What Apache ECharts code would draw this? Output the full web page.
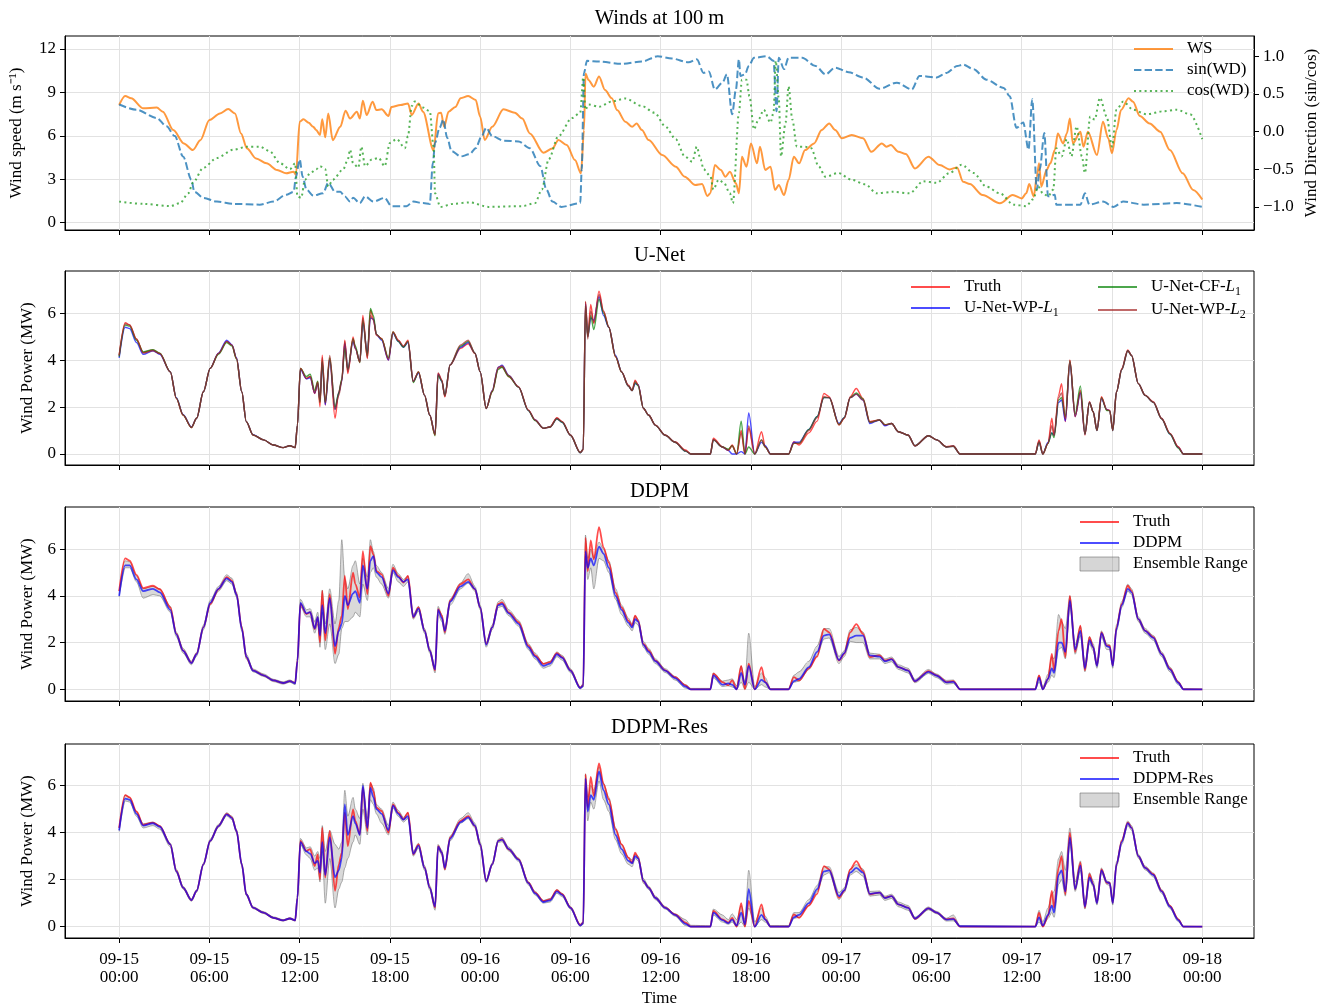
<!DOCTYPE html>
<html><head><meta charset="utf-8">
<script src="https://cdn.jsdelivr.net/npm/echarts@6/dist/echarts.min.js"></script>
<style>html,body{margin:0;padding:0;background:#fff}#c{width:1332px;height:1007px}</style>
</head><body><div id="c"></div>
<script>
// ---------- tick labels ----------
const xTickHours=[0,6,12,18,24,30,36,42,48,54,60,66,72];
const xTickLabels=['09-15\n00:00','09-15\n06:00','09-15\n12:00','09-15\n18:00','09-16\n00:00','09-16\n06:00','09-16\n12:00','09-16\n18:00','09-17\n00:00','09-17\n06:00','09-17\n12:00','09-17\n18:00','09-18\n00:00'];
const wsTicks=[0,3,6,9,12];
const dirTicks=[-1,-0.5,0,0.5,1];
const powerTicks=[0,2,4,6];

// ---------- winds at 100 m : [hours since 09-15 00:00, value] ----------
const wsData=[[0,8.13],[0.4,8.75],[0.8,8.6],[1.6,7.9],[2.5,7.95],[2.9,7.67],[3.6,6.4],[4.3,5.48],[4.9,5.02],[5.4,5.7],[6,7.1],[6.7,7.55],[7.25,7.85],[7.7,7.55],[8.1,6.17],[8.5,5.13],[9.1,4.44],[9.8,4.1],[10.5,3.64],[11.1,3.41],[11.6,3.52],[11.75,3.3],[12,6.98],[12.25,7.14],[12.6,6.9],[12.9,6.63],[13.1,6.4],[13.35,6.06],[13.5,7.14],[13.7,5.9],[13.9,7.55],[14.2,5.7],[14.7,6.63],[15.05,7.74],[15.35,7.2],[15.8,7.67],[16,7.2],[16.2,8.43],[16.45,7.44],[16.85,8.36],[17.1,7.78],[17.45,7.83],[17.9,7.37],[18.1,8.0],[18.7,8.13],[19.2,8.24],[19.45,7.44],[19.9,8.24],[20.2,7.67],[20.9,5.0],[21.2,7.55],[21.4,7.6],[21.6,6.63],[21.9,7.67],[22.35,8.0],[22.7,8.6],[23.2,8.75],[23.7,8.48],[24,7.32],[24.3,5.71],[24.8,6.63],[25.55,7.83],[26.3,7.6],[26.8,7.2],[27.3,6.17],[28.2,4.84],[28.8,5.13],[29.2,5.71],[29.75,5.37],[30.3,4.33],[30.7,3.41],[30.9,6.4],[31,10.3],[31.2,9.86],[31.55,9.4],[31.9,10.1],[32.3,9.16],[32.75,8.6],[33.1,7.78],[33.65,6.98],[34.1,6.63],[34.4,6.86],[34.75,6.4],[35.2,5.71],[36.1,4.67],[37,3.87],[37.6,3.18],[38.3,2.6],[38.75,2.67],[39.1,1.84],[39.3,2.03],[39.6,3.98],[40,3.64],[40.3,3.18],[40.6,3.52],[41,2.72],[41.2,2.03],[41.4,4.56],[41.7,3.87],[42,5.48],[42.4,4.1],[42.6,5.25],[42.95,3.64],[43.3,3.87],[43.6,2.26],[43.85,2.6],[44.2,1.91],[44.5,2.95],[44.85,4.56],[45.2,4.1],[45.6,5.02],[46.2,5.48],[46.7,6.4],[47.2,6.86],[47.6,6.4],[48.05,5.83],[48.7,6.06],[49.45,5.83],[50,4.9],[50.7,5.48],[51,5.25],[51.3,5.37],[51.8,4.9],[52.3,4.74],[52.9,3.75],[53.8,4.56],[54.55,3.98],[55.2,3.68],[55.7,3.82],[56.1,2.83],[56.55,2.67],[57.4,1.91],[58.55,1.34],[59.4,1.91],[60,1.68],[60.3,2.03],[60.5,2.67],[60.8,1.8],[61,3.18],[61.15,4.1],[61.3,2.49],[61.65,3.64],[61.9,4.1],[62.2,5.02],[62.4,6.17],[62.75,5.48],[63,6.17],[63.2,7.2],[63.4,5.48],[63.9,6.29],[64.1,5.25],[64.4,6.29],[65,4.67],[65.4,6.98],[65.75,5.83],[66,4.79],[66.3,6.4],[66.6,7.78],[67.1,8.6],[67.4,8.36],[67.85,7.37],[68.5,6.86],[69.2,6.29],[69.85,5.02],[70.7,3.41],[71.4,2.26],[72,1.6]];
const sinData=[[0,0.36],[1.15,0.29],[2.5,0.18],[3.15,0.07],[3.7,-0.06],[4.25,-0.33],[4.8,-0.64],[5,-0.8],[5.6,-0.88],[6.5,-0.93],[7.6,-0.96],[9.35,-0.97],[10.25,-0.93],[11.1,-0.84],[11.6,-0.8],[11.75,-0.6],[12,-0.37],[12.2,-0.6],[12.45,-0.77],[12.9,-0.85],[13.55,-0.82],[13.9,-0.68],[14.35,-0.8],[14.7,-0.8],[15,-0.86],[15.35,-0.93],[15.55,-0.88],[16,-0.95],[16.35,-0.86],[16.9,-0.93],[17.65,-0.88],[18.1,-0.99],[19.1,-0.99],[19.55,-0.93],[20.2,-0.95],[20.65,-0.96],[20.85,-0.42],[21,-0.15],[21.3,0.05],[21.55,0.16],[21.8,-0.08],[22.1,-0.26],[22.7,-0.33],[23.3,-0.3],[23.7,-0.22],[24.1,-0.06],[24.4,0.05],[24.8,-0.06],[25.55,-0.12],[26.55,-0.13],[27.3,-0.22],[28,-0.46],[28.4,-0.77],[28.8,-0.93],[29.4,-1.0],[30.65,-0.95],[30.75,-0.5],[30.9,0.78],[31.1,0.94],[31.9,0.93],[33.4,0.9],[34.75,0.93],[35.8,1.0],[36.75,0.97],[37.85,0.92],[38.4,0.96],[38.85,0.78],[39.2,0.8],[39.6,0.56],[40.1,0.65],[40.4,0.76],[40.75,0.23],[41,0.56],[41.2,0.96],[41.3,0.74],[41.6,0.76],[41.85,0.87],[42.2,0.98],[43.05,1.0],[43.5,0.94],[43.7,0.27],[43.85,0.98],[44.2,0.83],[44.5,0.98],[45.4,0.98],[46.3,0.87],[46.95,0.76],[47.6,0.85],[48.5,0.79],[49.45,0.72],[50.55,0.57],[51.7,0.65],[52.7,0.56],[53.2,0.74],[54.35,0.72],[55,0.78],[55.7,0.87],[56.1,0.89],[56.8,0.83],[57.65,0.69],[58.8,0.58],[59.2,0.47],[59.65,0.05],[60.1,0.12],[60.45,-0.24],[60.7,0.43],[61,-0.77],[61.2,-0.5],[61.5,-0.02],[61.75,-0.86],[62.2,-0.84],[62.3,-0.97],[63.9,-0.97],[64.2,-0.82],[64.5,-0.97],[65.4,-0.93],[66.1,-1.0],[66.75,-0.93],[68.1,-0.97],[70.3,-0.95],[72,-1.0]];
const cosData=[[0,-0.93],[1.6,-0.96],[3.4,-0.99],[4.05,-0.95],[4.6,-0.82],[4.9,-0.68],[5.6,-0.48],[6.5,-0.35],[7.6,-0.24],[8.5,-0.2],[9.35,-0.2],[10,-0.26],[10.7,-0.42],[11.35,-0.5],[11.7,-0.42],[11.85,-0.86],[12.1,-0.88],[12.35,-0.64],[12.7,-0.55],[13.1,-0.5],[13.35,-0.46],[13.7,-0.5],[13.9,-0.73],[14.2,-0.64],[14.9,-0.5],[15.2,-0.37],[15.35,-0.24],[15.55,-0.42],[15.9,-0.48],[16.1,-0.2],[16.35,-0.46],[16.8,-0.37],[17.25,-0.35],[17.65,-0.46],[18,-0.15],[18.45,-0.1],[19,-0.22],[19.2,-0.06],[19.45,0.34],[19.65,0.4],[20.2,0.32],[20.65,0.27],[20.9,-0.2],[21,-0.82],[21.35,-1.0],[22.2,-0.96],[23.3,-0.94],[24.55,-1.0],[26.8,-0.99],[27.65,-0.95],[28.1,-0.77],[28.55,-0.37],[29.2,-0.06],[30.1,0.18],[30.65,0.25],[30.85,0.72],[31,0.29],[31.2,0.36],[31.9,0.33],[32.75,0.4],[33.65,0.44],[34.75,0.34],[35.6,0.25],[36.3,0.07],[37,-0.1],[37.6,-0.33],[38.1,-0.4],[38.4,-0.2],[38.65,-0.37],[38.85,-0.5],[39.3,-0.59],[39.5,-0.77],[39.85,-0.64],[40.2,-0.68],[40.6,-0.82],[40.8,-0.95],[41.2,0.25],[41.4,0.69],[41.7,0.69],[41.9,0.47],[42.2,0.03],[42.5,0.16],[42.85,0.29],[43.3,0.12],[43.5,0.25],[43.65,0.94],[43.85,0.43],[44,-0.33],[44.3,0.12],[44.5,0.6],[44.75,0.16],[45.05,-0.2],[45.6,-0.2],[46,-0.22],[46.5,-0.46],[46.95,-0.6],[47.8,-0.55],[48.7,-0.64],[49.6,-0.7],[50.35,-0.82],[51.45,-0.8],[52.55,-0.82],[53.45,-0.66],[54.35,-0.68],[55.2,-0.55],[56,-0.44],[56.8,-0.55],[57.65,-0.73],[58.55,-0.82],[59.45,-0.97],[60.3,-0.99],[60.75,-0.9],[61.1,-0.73],[61.4,-0.82],[61.75,-0.86],[62.1,-0.77],[62.3,-0.22],[62.65,-0.33],[63,-0.1],[63.3,-0.33],[63.65,0.07],[64,-0.33],[64.2,-0.55],[64.55,0.2],[64.85,0.16],[65.2,0.45],[65.65,0.2],[66,-0.2],[66.3,0.29],[66.75,0.4],[67.4,0.29],[68.3,0.23],[69.4,0.27],[70.3,0.29],[71.2,0.23],[72,-0.1]];

// ---------- wind power (MW): shared time grid (hours) ----------
const pwT=[0,0.4,0.7,1.15,1.6,2.25,2.7,3.4,3.8,4.25,
4.8,5.15,5.6,6.05,6.6,7.15,7.5,7.8,8.15,8.45,
8.9,9.6,10.25,10.9,11.35,11.7,11.85,12.05,12.45,12.7,
13,13.2,13.35,13.5,13.7,14,14.35,14.6,14.8,15,
15.2,15.55,15.7,16,16.2,16.5,16.7,16.9,17.1,17.45,
17.9,18.2,18.55,18.9,19.2,19.55,19.9,20.3,20.65,21,
21.2,21.45,21.65,22,22.7,23.2,23.65,24,24.4,24.8,
25.2,25.45,25.9,26.55,27.2,27.65,28.2,28.65,29.1,29.45,
30,30.65,30.85,31,31.15,31.35,31.55,31.9,32.2,32.55,
33,33.4,33.85,34.1,34.3,34.5,34.85,35.2,35.65,36.3,
36.95,37.65,38,39.3,39.5,40.1,40.5,40.75,41.05,41.35,
41.6,41.85,42.25,42.7,42.95,43.3,44.5,44.85,45.2,45.85,
46.4,46.85,47.2,47.85,48.2,48.6,49,49.45,49.9,50.55,
50.9,51.35,51.8,52.45,52.9,53.8,54.35,55,55.45,55.9,
60.9,61.15,61.4,61.75,62,62.15,62.45,62.65,62.9,63.2,
63.55,63.9,64.2,64.5,64.75,65,65.3,65.65,65.85,66.05,
66.3,66.65,67.05,67.3,67.75,68.2,68.75,69.3,69.85,70.4,
70.75,72];
const truth=[4.2,5.6,5.5,4.9,4.33,4.43,4.28,3.5,2.37,1.66,
1.13,1.52,2.65,3.65,4.28,4.8,4.64,4.07,2.65,1.38,
0.81,0.6,0.38,0.27,0.35,0.27,1.23,3.65,3.22,3.3,
2.58,3.08,2.01,4.21,2.09,4.07,1.52,2.65,3.15,4.85,
3.43,4.99,4.5,3.93,5.91,4.07,6.13,5.77,5.06,4.92,
4.0,5.2,4.85,4.57,4.85,3.08,3.5,2.51,1.66,0.81,
3.43,3.15,2.44,3.79,4.5,4.7,4.28,3.5,1.94,2.65,
3.65,3.72,3.29,2.87,1.87,1.45,1.09,1.16,1.55,1.38,
0.81,0.07,0.17,6.48,5.06,6.37,5.56,6.94,6.06,5.42,
4.14,3.5,2.94,2.72,3.15,2.94,1.94,1.66,1.23,0.81,
0.52,0.17,0,0,0.67,0.31,0.17,0.38,0,1.0,
0,1.1,0,0.95,0.31,0,0,0.52,0.38,0.9,
1.4,2.58,2.44,1.23,1.52,2.44,2.79,2.37,1.38,1.45,
1.23,1.3,0.95,0.81,0.34,0.78,0.6,0.31,0.35,0,
0,0.6,0,0.45,1.52,0.8,2.51,3.0,1.38,4.0,
1.59,2.72,0.81,2.23,1.8,1.02,2.44,1.87,1.87,1.02,
2.65,3.65,4.43,4.21,3.0,2.51,2.23,1.52,0.88,0.31,
0,0];
const unetWPL1=[4.1,5.4,5.35,4.75,4.25,4.4,4.25,3.5,2.4,1.68,
1.15,1.52,2.65,3.65,4.3,4.85,4.65,4.1,2.65,1.38,
0.82,0.6,0.38,0.27,0.35,0.27,1.23,3.6,3.2,3.25,
2.6,3.0,2.3,3.9,2.1,4.0,1.9,2.6,3.1,4.7,
3.6,4.8,4.5,3.95,5.6,4.3,5.8,5.75,5.1,4.85,
4.0,5.15,4.8,4.55,4.75,3.1,3.45,2.5,1.65,0.85,
3.4,3.1,2.5,3.8,4.55,4.75,4.3,3.5,1.94,2.7,
3.7,3.78,3.35,2.85,1.85,1.45,1.1,1.15,1.5,1.35,
0.8,0.05,0.2,6.4,5.0,5.8,5.7,6.7,5.9,5.4,
4.2,3.5,2.9,2.7,3.0,2.95,1.95,1.65,1.22,0.8,
0.5,0.12,0,0,0.6,0.3,0.15,0,0,0.1,
0,1.75,0,0.5,0.35,0,0,0.5,0.5,1.05,
1.6,2.4,2.4,1.3,1.55,2.4,2.55,2.3,1.3,1.45,
1.2,1.3,0.95,0.8,0.35,0.78,0.6,0.3,0.33,0,
0,0.5,0,0.5,0.9,0.8,2.2,2.3,1.4,3.9,
1.6,2.6,0.85,2.2,1.8,1.0,2.35,1.9,1.85,1.0,
2.65,3.6,4.4,4.2,3.0,2.5,2.2,1.5,0.85,0.28,
0,0];
const unetCFL1=[4.15,5.5,5.45,4.85,4.35,4.45,4.3,3.5,2.38,1.66,
1.13,1.52,2.65,3.65,4.25,4.75,4.6,4.05,2.65,1.38,
0.81,0.6,0.38,0.27,0.35,0.27,1.23,3.65,3.3,3.4,
2.7,3.1,2.2,3.95,2.2,4.1,2.0,2.6,3.2,4.5,
3.6,4.9,4.6,3.9,5.7,4.2,6.2,5.9,5.1,4.9,
4.1,5.2,4.8,4.55,4.8,3.05,3.5,2.5,1.65,0.78,
3.35,3.1,2.5,3.8,4.6,4.8,4.3,3.5,1.94,2.65,
3.6,3.7,3.3,2.85,1.85,1.42,1.1,1.15,1.5,1.35,
0.8,0.05,0.2,6.3,5.0,5.9,5.3,6.6,6.0,5.4,
4.15,3.5,2.9,2.7,3.05,2.9,1.95,1.65,1.22,0.8,
0.5,0.12,0,0,0.6,0.3,0.2,0.35,0,1.4,
0,0.3,0,0.6,0.3,0,0,0.45,0.45,1.05,
1.6,2.4,2.4,1.25,1.55,2.4,2.6,2.35,1.35,1.45,
1.25,1.3,0.95,0.8,0.35,0.78,0.6,0.3,0.33,0,
0,0.5,0,0.45,0.9,0.7,2.3,2.4,1.6,3.95,
1.7,2.9,0.85,2.2,1.8,1.0,2.4,1.85,1.85,1.0,
2.65,3.6,4.4,4.2,3.0,2.5,2.2,1.5,0.85,0.25,
0,0];
const unetWPL2=[4.2,5.55,5.5,4.9,4.3,4.4,4.28,3.5,2.37,1.66,
1.13,1.52,2.65,3.65,4.28,4.8,4.64,4.07,2.65,1.38,
0.81,0.6,0.38,0.27,0.35,0.27,1.23,3.65,3.22,3.3,
2.6,3.05,2.2,4.1,2.2,4.2,1.9,2.5,3.1,4.8,
3.5,4.9,4.5,3.9,5.8,4.1,5.9,5.7,5.1,4.9,
4.05,5.2,4.85,4.6,4.8,3.1,3.5,2.5,1.65,0.82,
3.45,3.15,2.45,3.8,4.65,4.85,4.3,3.5,1.94,2.7,
3.7,3.75,3.35,2.85,1.87,1.45,1.1,1.15,1.52,1.38,
0.8,0.06,0.2,6.5,4.9,6.1,5.6,6.8,6.1,5.4,
4.15,3.5,2.9,2.7,3.1,2.95,1.95,1.65,1.22,0.8,
0.5,0.14,0,0,0.62,0.3,0.15,0.35,0,0.9,
0,1.2,0,0.6,0.3,0,0,0.45,0.45,1.0,
1.55,2.45,2.4,1.25,1.52,2.4,2.55,2.3,1.35,1.45,
1.25,1.3,0.95,0.8,0.35,0.78,0.6,0.3,0.33,0,
0,0.55,0,0.45,1.2,0.8,2.4,2.6,1.5,4.0,
1.6,2.65,0.85,2.2,1.8,1.0,2.4,1.9,1.85,1.0,
2.65,3.6,4.4,4.2,3.0,2.5,2.2,1.5,0.88,0.3,
0,0];
const ddpmMean=[4.0,5.3,5.3,4.7,4.2,4.3,4.15,3.4,2.35,1.65,
1.12,1.5,2.65,3.7,4.3,4.75,4.6,4.05,2.6,1.4,
0.8,0.6,0.38,0.27,0.35,0.25,1.2,3.7,3.25,3.3,
2.6,3.1,2.3,3.6,2.4,3.9,1.85,2.5,2.8,4.0,
3.6,4.1,4.2,3.7,5.3,4.3,5.5,5.7,5.0,4.8,
4.1,5.1,4.8,4.6,4.7,3.1,3.45,2.5,1.65,0.85,
3.4,3.05,2.5,3.75,4.4,4.6,4.3,3.5,1.9,2.65,
3.6,3.65,3.25,2.8,1.8,1.4,1.0,1.1,1.5,1.35,
0.8,0.05,0.15,5.9,5.2,5.6,5.3,6.1,5.8,5.2,
4.0,3.4,2.85,2.65,3.0,2.9,1.9,1.6,1.2,0.8,
0.48,0.12,0,0,0.6,0.2,0.25,0.2,0,0.7,
0.2,1.0,0,0.4,0.3,0,0,0.35,0.45,0.95,
1.6,2.3,2.35,1.25,1.55,2.2,2.3,2.3,1.45,1.4,
1.2,1.28,0.95,0.8,0.35,0.75,0.58,0.3,0.32,0,
0,0.5,0,0.45,0.9,0.7,2.0,2.0,1.6,3.8,
1.7,2.5,0.9,2.1,1.8,1.0,2.4,1.85,1.8,1.0,
2.6,3.6,4.3,4.15,3.0,2.5,2.2,1.5,0.85,0.28,
0,0];
const ddpmLow=[3.95,5.2,5.2,4.6,3.9,4.05,4.0,3.3,2.25,1.55,
1.05,1.42,2.55,3.6,4.2,4.65,4.5,3.95,2.5,1.3,
0.75,0.55,0.33,0.22,0.3,0.2,1.1,3.55,3.1,3.1,
2.4,2.8,1.8,3.3,1.7,2.8,1.1,1.5,2.6,2.9,
2.9,3.1,3.3,3.1,4.5,3.8,5.0,5.2,4.8,4.5,
3.9,5.0,4.6,4.4,4.6,3.0,3.35,2.4,1.55,0.7,
3.2,2.9,2.35,3.6,4.3,4.55,4.2,3.4,1.8,2.55,
3.5,3.55,3.15,2.7,1.7,1.3,0.9,1.0,1.4,1.25,
0.72,0.02,0.1,5.7,4.7,5.2,4.3,5.6,5.5,5.0,
3.85,3.2,2.7,2.5,2.85,2.75,1.8,1.5,1.1,0.72,
0.4,0.05,0,0,0.5,0.12,0.15,0.1,0,0.3,
0,0.3,0,0.2,0.1,0,0,0.3,0.35,0.85,
1.45,2.15,2.2,1.1,1.4,2.05,2.0,2.0,1.3,1.3,
1.1,1.18,0.85,0.7,0.28,0.68,0.5,0.22,0.25,0,
0,0.3,0,0.3,0.6,0.5,1.7,1.8,1.3,3.6,
1.5,2.3,0.75,1.95,1.65,0.9,2.25,1.7,1.7,0.9,
2.5,3.5,4.2,4.05,2.9,2.4,2.1,1.4,0.75,0.2,
0,0];
const ddpmHigh=[4.2,5.5,5.45,4.85,4.3,4.4,4.3,3.55,2.45,1.75,
1.2,1.58,2.75,3.8,4.4,4.9,4.75,4.15,2.7,1.5,
0.87,0.66,0.43,0.32,0.4,0.3,1.3,3.85,3.4,3.45,
2.9,3.3,2.7,4.25,2.8,4.3,2.8,3.8,6.4,4.7,
4.3,5.3,5.5,4.5,5.6,4.8,6.4,5.9,5.3,5.0,
4.3,5.35,4.95,4.7,4.85,3.2,3.55,2.6,1.75,0.95,
3.55,3.2,2.6,3.85,4.55,4.95,4.4,3.6,2.0,2.75,
3.75,3.85,3.4,2.95,1.95,1.55,1.1,1.2,1.6,1.45,
0.88,0.1,0.25,6.6,5.6,6.0,5.6,6.3,6.0,5.5,
4.3,3.6,3.05,2.8,3.15,3.0,2.05,1.75,1.3,0.88,
0.55,0.2,0.04,0.04,0.7,0.35,0.4,0.45,0.15,1.0,
0.3,2.4,0.1,0.7,0.5,0.03,0.03,0.6,0.75,1.2,
1.85,2.6,2.6,1.4,1.65,2.55,2.65,2.45,1.55,1.5,
1.3,1.38,1.05,0.9,0.42,0.85,0.65,0.38,0.4,0.02,
0.02,0.6,0.1,0.65,1.4,1.3,3.2,2.9,2.6,4.0,
1.9,2.7,1.1,2.25,1.95,1.1,2.5,1.95,1.9,1.1,
2.75,3.75,4.5,4.3,3.1,2.6,2.3,1.6,0.95,0.35,
0.03,0];
const resMean=[4.1,5.45,5.4,4.8,4.3,4.4,4.25,3.5,2.35,1.66,
1.13,1.52,2.65,3.65,4.28,4.78,4.62,4.07,2.65,1.38,
0.81,0.6,0.38,0.27,0.35,0.27,1.23,3.6,3.2,3.1,
2.7,2.8,2.3,3.6,2.2,3.8,2.1,2.4,2.9,5.2,
3.9,4.7,4.4,3.9,6.0,4.2,5.9,5.5,5.0,4.8,
4.1,5.15,4.8,4.55,4.7,3.1,3.45,2.5,1.65,0.85,
3.4,3.15,2.5,3.75,4.45,4.65,4.3,3.5,1.94,2.65,
3.65,3.7,3.3,2.85,1.85,1.42,1.05,1.12,1.5,1.35,
0.8,0.05,0.15,6.3,4.9,5.6,5.4,6.6,5.8,5.2,
3.9,3.3,2.8,2.7,3.0,2.9,1.95,1.65,1.22,0.8,
0.5,0.12,0,0,0.6,0.28,0.15,0.3,0.05,0.6,
0.1,1.6,0,0.5,0.3,0,0,0.4,0.5,1.0,
1.6,2.35,2.4,1.3,1.55,2.3,2.5,2.3,1.4,1.45,
1.22,1.3,0.95,0.8,0.35,0.78,0.6,0.3,0.32,0.02,
0,0.4,0.05,0.5,0.9,0.6,2.2,2.4,1.5,3.8,
1.6,2.6,0.85,2.1,1.8,1.0,2.4,1.9,1.85,1.0,
2.65,3.6,4.4,4.2,3.0,2.5,2.2,1.5,0.85,0.28,
0,0];
const resLow=[4.05,5.35,5.3,4.7,4.2,4.3,4.15,3.4,2.3,1.6,
1.08,1.47,2.6,3.6,4.22,4.72,4.55,4.0,2.6,1.33,
0.77,0.56,0.35,0.24,0.32,0.24,1.18,3.5,3.05,2.9,
2.4,2.5,1.9,3.2,1.0,2.9,0.8,1.6,1.9,2.5,
2.9,3.6,3.9,3.5,5.0,3.9,5.4,5.2,4.8,4.4,
3.9,5.05,4.7,4.45,4.6,3.0,3.35,2.4,1.55,0.7,
3.3,3.05,2.4,3.65,4.4,4.6,4.2,3.4,1.88,2.6,
3.58,3.62,3.22,2.78,1.78,1.35,1.0,1.05,1.42,1.28,
0.75,0.02,0.1,5.9,4.5,5.3,5.0,6.2,5.4,4.9,
3.7,3.1,2.65,2.55,2.9,2.8,1.85,1.58,1.15,0.75,
0.45,0.05,0,0,0.5,0.2,0.1,0.2,0,0.2,
0,0.8,0,0.3,0.2,0,0,0.35,0.4,0.9,
1.5,2.2,2.3,1.15,1.45,2.2,2.35,2.15,1.3,1.35,
1.12,1.2,0.85,0.7,0.3,0.72,0.55,0.24,0.25,0,
0,0.2,0,0.35,0.6,0.4,1.8,2.0,1.3,3.6,
1.5,2.4,0.75,2.0,1.7,0.92,2.3,1.8,1.75,0.92,
2.55,3.5,4.3,4.1,2.92,2.42,2.12,1.42,0.78,0.22,
0,0];
const resHigh=[4.2,5.6,5.5,4.9,4.38,4.45,4.3,3.55,2.45,1.72,
1.18,1.57,2.7,3.72,4.35,4.85,4.7,4.12,2.7,1.43,
0.85,0.64,0.42,0.3,0.38,0.3,1.28,3.75,3.35,3.4,
3.0,3.2,2.9,4.3,3.2,4.1,3.5,3.3,3.6,5.8,
4.7,5.5,5.0,4.6,6.1,4.6,6.1,5.9,5.2,5.0,
4.3,5.3,4.95,4.65,4.85,3.2,3.55,2.6,1.75,0.95,
3.5,3.25,2.6,3.85,4.6,4.85,4.4,3.6,2.0,2.72,
3.72,3.8,3.38,2.92,1.92,1.5,1.12,1.2,1.58,1.42,
0.86,0.1,0.22,6.5,5.5,6.0,5.8,6.8,6.1,5.5,
4.2,3.5,2.95,2.85,3.1,3.0,2.05,1.72,1.3,0.86,
0.55,0.3,0.06,0.04,0.75,0.5,0.3,0.55,0.3,0.9,
0.3,2.4,0.2,0.8,0.45,0.05,0.05,0.6,0.6,1.15,
1.75,2.55,2.55,1.45,1.65,2.45,2.65,2.45,1.5,1.52,
1.3,1.38,1.05,0.9,0.4,0.84,0.65,0.36,0.5,0.04,
0.02,0.7,0.2,0.8,1.4,1.5,2.9,3.2,2.4,4.2,
1.9,2.8,1.0,2.3,1.95,1.1,2.5,1.95,1.9,1.1,
2.75,3.7,4.5,4.3,3.08,2.58,2.28,1.58,0.92,0.34,
0.02,0];

// ---------- build chart ----------
const FONT='"Liberation Serif","Times New Roman",serif';
const SMOOTH=0.3;
const pair=(T,V)=>T.map((t,i)=>[t,V[i]]);
const GRIDC='#e2e2e2';
const gridTops=[36,271,507,744];
const gridH=194;

const grid=gridTops.map(t=>({left:65,width:1189,top:t,height:gridH,show:true,borderColor:'#000',borderWidth:1,backgroundColor:'transparent'}));

function xAx(i,showLabel){
  return {type:'value',gridIndex:i,min:-3.6,max:75.44,
    axisLine:{show:true,onZero:false,lineStyle:{color:'#000',width:1}},
    axisTick:{show:true,length:5,inside:false,customValues:xTickHours,lineStyle:{color:'#000',width:1}},
    axisLabel:{show:showLabel,customValues:xTickHours,formatter:v=>{const k=xTickHours.indexOf(Math.round(v));return k>=0?xTickLabels[k]:'';},
      fontFamily:FONT,fontSize:17,color:'#000',lineHeight:18.5,margin:12},
    splitLine:{show:true,lineStyle:{color:GRIDC,width:1}}};
}
function yAx(i,min,max,ticks,fmt,pos,split){
  return {type:'value',gridIndex:i,min:min,max:max,position:pos||'left',
    axisLine:{show:true,onZero:false,lineStyle:{color:'#000',width:1}},
    axisTick:{show:true,length:5,inside:false,customValues:ticks,lineStyle:{color:'#000',width:1}},
    axisLabel:{customValues:ticks,formatter:fmt,fontFamily:FONT,fontSize:17,color:'#000',margin:9},
    splitLine:{show:split!==false,lineStyle:{color:GRIDC,width:1}}};
}
const intFmt=v=>String(Math.round(v));
const dirFmt=v=>(v<0?'\u2212':'')+Math.abs(v).toFixed(1);

const xAxis=[xAx(0,false),xAx(1,false),xAx(2,false),xAx(3,true)];
const yAxis=[
  yAx(0,-0.504,12.898,wsTicks,intFmt,'left'),
  yAx(0,-1.307,1.27,dirTicks,dirFmt,'right',false),
  yAx(1,-0.47,7.8,powerTicks,intFmt,'left'),
  yAx(2,-0.5,7.8,powerTicks,intFmt,'left'),
  yAx(3,-0.48,7.77,powerTicks,intFmt,'left')
];

function line(name,xi,yi,data,color,width,type,z){
  return {name:name,type:'line',xAxisIndex:xi,yAxisIndex:yi,data:data,symbol:'none',showSymbol:false,
    smooth:SMOOTH,smoothMonotone:'x',animation:false,silent:true,z:z||2,
    lineStyle:{color:color,width:width,type:type||'solid',cap:'butt',join:'round'},itemStyle:{color:color}};
}
const RED='rgba(255,0,0,0.7)',BLUE='rgba(0,0,255,0.7)',GREEN='rgba(0,128,0,0.7)',BROWN='rgba(165,42,42,0.7)';
const BANDFILL='rgba(128,128,128,0.3)',BANDEDGE='rgba(110,110,110,0.7)';
function band(tag,xi,yi,lo,hi){
  const poly={name:'Ensemble Range',type:'custom',xAxisIndex:xi,yAxisIndex:yi,silent:true,animation:false,clip:true,z:1,
    data:pwT.map((t,i)=>[t,lo[i],hi[i]]),encode:{x:0,y:[1,2]},itemStyle:{color:BANDFILL},
    renderItem:function(params,api){
      if(params.dataIndex!==0) return null;
      const pts=[];
      for(let i=0;i<pwT.length;i++) pts.push(api.coord([pwT[i],lo[i]]));
      for(let i=pwT.length-1;i>=0;i--) pts.push(api.coord([pwT[i],hi[i]]));
      return {type:'polygon',shape:{points:pts,smooth:0},style:{fill:BANDFILL,stroke:null}};
    }};
  return [poly,
    line(tag+'Lo',xi,yi,pair(pwT,lo),BANDEDGE,0.8,'solid',1),
    line(tag+'Hi',xi,yi,pair(pwT,hi),BANDEDGE,0.8,'solid',1)];
}

const series=[
  line('WS',0,0,wsData,'rgba(255,127,14,0.8)',2),
  line('sin(WD)',0,1,sinData,'rgba(31,119,180,0.8)',2,[7.4,3.2]),
  line('cos(WD)',0,1,cosData,'rgba(44,160,44,0.8)',2,[2,3.3]),
  line('Truth',1,2,pair(pwT,truth),RED,1.4),
  line('U-Net-WP-L1',1,2,pair(pwT,unetWPL1),BLUE,1.4),
  line('U-Net-CF-L1',1,2,pair(pwT,unetCFL1),GREEN,1.4),
  line('U-Net-WP-L2',1,2,pair(pwT,unetWPL2),BROWN,1.4),
  ...band('ddpm',2,3,ddpmLow,ddpmHigh),
  line('Truth',2,3,pair(pwT,truth),RED,1.8),
  line('DDPM',2,3,pair(pwT,ddpmMean),BLUE,1.8),
  ...band('res',3,4,resLow,resHigh),
  line('Truth',3,4,pair(pwT,truth),RED,1.8),
  line('DDPM-Res',3,4,pair(pwT,resMean),BLUE,1.8)
];

const legText={fontFamily:FONT,fontSize:17,color:'#000',padding:[0,0,0,9],
  rich:{it:{fontFamily:FONT,fontSize:17,fontStyle:'italic',color:'#000'},sub:{fontFamily:FONT,fontSize:12,color:'#000',padding:[9,0,0,0]}}};
const legFmt=n=>{const m=n.match(/^(.*-)L(\d)$/);return m?(m[1]+'{it|L}{sub|'+m[2]+'}'):n;};
function legend(left,top,data){
  return {left:left,top:top,orient:'vertical',itemWidth:39,itemHeight:14,itemGap:4,padding:0,
    selectedMode:false,textStyle:legText,formatter:legFmt,itemStyle:{opacity:0},data:data};
}
const ensItem={name:'Ensemble Range',icon:'rect',itemStyle:{opacity:1,color:'rgba(128,128,128,0.32)',borderColor:'rgba(110,110,110,0.6)',borderWidth:1}};
const legends=[
  legend(1133,40.5,['WS','sin(WD)','cos(WD)']),
  legend(910,278.5,['Truth','U-Net-WP-L1']),
  legend(1097,278.5,['U-Net-CF-L1','U-Net-WP-L2']),
  legend(1079,513.5,['Truth','DDPM',ensItem]),
  legend(1079,749.5,['Truth','DDPM-Res',ensItem])
];

function txt(x,y,s,size,rot){
  return {type:'text',x:x,y:y,rotation:rot||0,silent:true,z:100,
    style:{text:s,fontFamily:'Liberation Serif',fontSize:size,fill:'#000',align:'center',verticalAlign:'middle',textAlign:'center',textVerticalAlign:'middle'}};
}
const graphic=[
  txt(659.5,19,'Winds at 100 m',20.5),
  txt(659.5,256,'U-Net',20.5),
  txt(659.5,492,'DDPM',20.5),
  txt(659.5,728,'DDPM-Res',20.5),
  txt(659.5,999,'Time',17),
  txt(17,133,'Wind speed (m s\u207B\u00B9)',17,Math.PI/2),
  txt(1312,133,'Wind Direction (sin/cos)',17,Math.PI/2),
  txt(28,368,'Wind Power (MW)',17,Math.PI/2),
  txt(28,604,'Wind Power (MW)',17,Math.PI/2),
  txt(28,841,'Wind Power (MW)',17,Math.PI/2)
];

const chart=echarts.init(document.getElementById('c'),null,{renderer:'canvas'});
chart.setOption({backgroundColor:'#fff',animation:false,grid:grid,xAxis:xAxis,yAxis:yAxis,series:series,legend:legends,graphic:graphic,tooltip:{show:false}});
</script></body></html>
